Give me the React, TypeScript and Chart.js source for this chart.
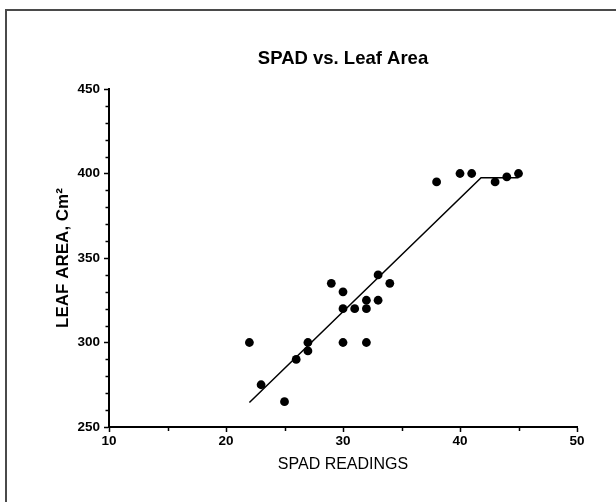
import React, { useEffect, useRef } from 'react';
import { Chart, registerables } from 'chart.js';

Chart.register(...registerables);

const TITLE = 'SPAD vs. Leaf Area';
const X_TITLE = 'SPAD READINGS';
const Y_TITLE = 'LEAF AREA, Cm²';

// Observed data (SPAD reading, leaf area in cm²)
const spad = [22, 23, 25, 26, 27, 27, 29, 30, 30, 30, 31, 32, 32, 32, 33, 33, 34, 38, 40, 41, 43, 44, 45];
const leafArea = [300, 275, 265, 290, 300, 295, 335, 330, 320, 300, 320, 325, 320, 300, 340, 325, 335, 395, 400, 400, 395, 398, 400];

// Segmented (linear-plateau) fit line
const fitX = [22, 41.8, 45];
const fitY = [264.5, 397.5, 397.5];

// Axis ranges and ticks
const X_MIN = 10;
const X_MAX = 50;
const X_STEP = 10;
const X_MINOR = 5;
const Y_MIN = 250;
const Y_MAX = 450;
const Y_STEP = 50;
const Y_MINOR = 10;

const FONT = '"Liberation Sans", Arial, Helvetica, sans-serif';

const minorTicks = {
  id: 'minorTicks',
  afterDraw(chart: any) {
    const { ctx, chartArea, scales } = chart;
    const x = scales.x;
    const y = scales.y;
    ctx.save();
    ctx.strokeStyle = '#000';
    ctx.lineWidth = 1.5;
    for (let v = X_MIN; v <= X_MAX; v += X_MINOR) {
      if (v % X_STEP === 0) continue;
      const px = Math.round(x.getPixelForValue(v)) + 0.5;
      ctx.beginPath();
      ctx.moveTo(px, chartArea.bottom);
      ctx.lineTo(px, chartArea.bottom + 4);
      ctx.stroke();
    }
    for (let v = Y_MIN; v <= Y_MAX; v += Y_MINOR) {
      if (v % Y_STEP === 0) continue;
      const py = Math.round(y.getPixelForValue(v)) + 0.5;
      ctx.beginPath();
      ctx.moveTo(chartArea.left, py);
      ctx.lineTo(chartArea.left - 3.5, py);
      ctx.stroke();
    }
    ctx.restore();
  },
};

export default function App() {
  const canvasRef = useRef<HTMLCanvasElement | null>(null);

  useEffect(() => {
    const canvas = canvasRef.current;
    if (!canvas) return;
    const points = spad.map((v, i) => ({ x: v, y: leafArea[i] }));
    const fit = fitX.map((v, i) => ({ x: v, y: fitY[i] }));

    const chart = new Chart(canvas, {
      type: 'scatter',
      data: {
        datasets: [
          {
            label: 'Observed',
            data: points,
            backgroundColor: '#000',
            borderColor: '#000',
            pointRadius: 4.4,
            pointHoverRadius: 4.4,
            pointBorderWidth: 0,
          },
          {
            label: 'Fit',
            data: fit,
            showLine: true,
            borderColor: '#000',
            borderWidth: 1.5,
            pointRadius: 0,
            pointHoverRadius: 0,
            fill: false,
          },
        ],
      },
      options: {
        animation: false,
        responsive: false,
        maintainAspectRatio: false,
        events: [],
        layout: { padding: { left: 0, right: 39, top: 48, bottom: 23.4 } },
        plugins: {
          legend: { display: false },
          tooltip: { enabled: false },
          title: {
            display: true,
            text: TITLE,
            fullSize: false,
            color: '#000',
            font: { family: FONT, size: 18.5, weight: 'bold' },
            padding: { top: 0, bottom: 18.8 },
          },
        },
        scales: {
          x: {
            type: 'linear',
            min: X_MIN,
            max: X_MAX,
            ticks: {
              stepSize: X_STEP,
              color: '#000',
              font: { family: FONT, size: 13.5, weight: 'bold' },
              padding: 1,
              maxRotation: 0,
            },
            grid: {
              display: true,
              drawOnChartArea: false,
              drawTicks: true,
              tickLength: 5,
              tickColor: '#000',
              tickWidth: 1.5,
            },
            border: { display: true, color: '#000', width: 2 },
            title: {
              display: true,
              text: X_TITLE,
              color: '#000',
              font: { family: FONT, size: 16 },
              padding: { top: 0, bottom: 4 },
            },
            afterFit(scale: any) {
              scale.height = 51.6;
              scale.paddingLeft = 0;
              scale.paddingRight = 0;
              scale.paddingTop = 0;
              scale.paddingBottom = 0;
            },
          },
          y: {
            type: 'linear',
            min: Y_MIN,
            max: Y_MAX,
            ticks: {
              stepSize: Y_STEP,
              color: '#000',
              font: { family: FONT, size: 13.5, weight: 'bold' },
              padding: 4,
            },
            grid: {
              display: true,
              drawOnChartArea: false,
              drawTicks: true,
              tickLength: 5,
              tickColor: '#000',
              tickWidth: 1.5,
            },
            border: { display: true, color: '#000', width: 2 },
            title: {
              display: true,
              text: Y_TITLE,
              color: '#000',
              font: { family: FONT, size: 17, weight: 'bold' },
              padding: { top: 52.8, bottom: 0 },
            },
            afterFit(scale: any) {
              scale.width = 109;
              scale.paddingLeft = 0;
              scale.paddingRight = 0;
              scale.paddingTop = 0;
              scale.paddingBottom = 0;
            },
          },
        },
      },
      plugins: [minorTicks],
    } as any);

    return () => {
      chart.destroy();
    };
  }, []);

  return (
    <div
      style={{
        position: 'fixed',
        left: 0,
        top: 0,
        width: 616,
        height: 502,
        background: '#fff',
        overflow: 'hidden',
      }}
    >
      <div
        style={{
          position: 'absolute',
          left: 5,
          top: 9,
          right: -4,
          bottom: -4,
          borderTop: '2px solid #4a4a4a',
          borderLeft: '2px solid #4a4a4a',
        }}
      />
      <canvas
        ref={canvasRef}
        width={616}
        height={502}
        style={{ position: 'absolute', left: 0, top: 0, width: 616, height: 502 }}
      />
    </div>
  );
}
